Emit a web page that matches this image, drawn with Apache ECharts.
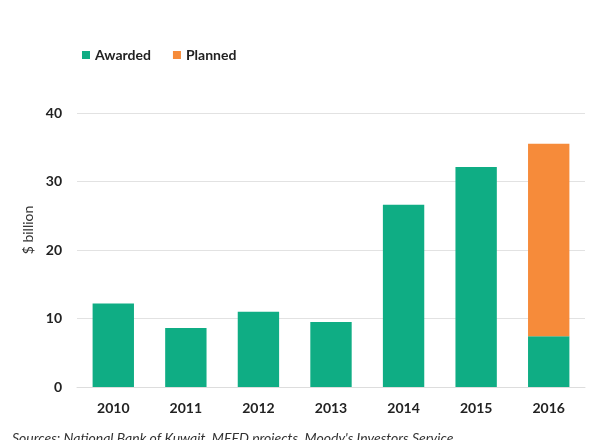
<!DOCTYPE html>
<html>
<head>
<meta charset="utf-8">
<script src="https://cdn.jsdelivr.net/npm/echarts@6/dist/echarts.min.js"></script>
<style>html,body{margin:0;padding:0;background:#fff}#c{width:589px;height:440px}</style>
</head>
<body>
<div id="c"></div>
<script>
const categories = ['2010','2011','2012','2013','2014','2015','2016'];
const awarded = [12.2, 8.6, 11.0, 9.5, 26.6, 32.1, 7.4];
const planned = [null, null, null, null, null, null, 28.1];
const yTicks = [0, 10, 20, 30, 40];
const seriesNames = ['Awarded', 'Planned'];
const yAxisTitle = '$ billion';
const sourceText = "Sources: National Bank of Kuwait, MEED projects, Moody's Investors Service";

const chart = echarts.init(document.getElementById('c'), null, {renderer: 'canvas'});
const font = 'Lato, "Open Sans", sans-serif';
chart.setOption({
  animation: false,
  backgroundColor: '#fff',
  color: ['#0FAD84', '#F68B3A'],
  legend: {
    left: 77, top: 43,
    itemWidth: 8, itemHeight: 8, itemGap: 22,
    icon: 'rect',
    data: seriesNames,
    textStyle: {fontFamily: font, fontSize: 14, fontWeight: 'bold', color: '#222'}
  },
  grid: {left: 77, right: 4, top: 113, bottom: 53},
  xAxis: {
    type: 'category',
    data: categories,
    axisLine: {show: true, lineStyle: {color: '#ddd'}},
    axisTick: {show: false},
    axisLabel: {fontFamily: font, fontSize: 14, color: '#222', margin: 14, fontWeight: 'bold'}
  },
  yAxis: {
    type: 'value', min: yTicks[0], max: yTicks[yTicks.length-1], interval: 10,
    axisLine: {show: false}, axisTick: {show: false},
    axisLabel: {fontFamily: font, fontSize: 14, color: '#222', margin: 15, fontWeight: 'bold'},
    splitLine: {lineStyle: {color: '#e2e2e2'}}
  },
  series: [
    {name: seriesNames[0], type: 'bar', stack: 't', data: awarded, barWidth: '57%'},
    {name: seriesNames[1], type: 'bar', stack: 't', data: planned, barWidth: '57%'}
  ],
  graphic: [
    {type: 'text', x: 28, y: 230, rotation: Math.PI / 2,
     style: {text: yAxisTitle, fontFamily: font, fontSize: 14, fill: '#333', align: 'center', verticalAlign: 'middle'}},
    {type: 'text', left: 12, top: 431, style: {text: sourceText, fontFamily: font, fontStyle: 'italic', fontSize: 14, fill: '#333'}}
  ]
});
</script>
</body>
</html>
